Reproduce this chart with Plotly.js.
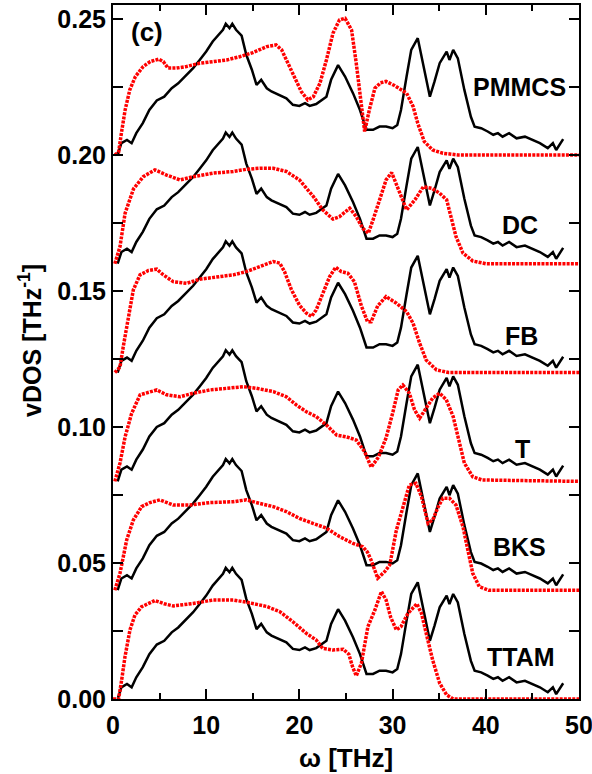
<!DOCTYPE html>
<html>
<head>
<meta charset="utf-8">
<script src="https://cdn.plot.ly/plotly-3.0.1.min.js"></script>
<style>html,body{margin:0;padding:0;background:#fff;}#chart{width:592px;height:774px;}</style>
</head>
<body>
<div id="chart"></div>
<script>
// Reference (black) vDOS curve, relative to each panel's baseline
var blackX = [0.5, 0.9, 1.5, 2.0, 2.5, 3.2, 3.9, 4.7, 5.5, 6.3, 7.0, 7.9, 8.6, 9.3, 10.0, 10.7, 11.3, 11.8, 12.1, 12.5, 12.8, 13.2, 13.8, 14.3, 14.9, 15.4, 15.9, 16.5, 17.0, 17.9, 18.6, 19.3, 20.0, 20.6, 21.1, 21.8, 22.4, 22.9, 23.4, 24.15, 24.9, 25.75, 26.5, 27.2, 27.9, 28.6, 29.3, 30.0, 30.5, 30.9, 31.5, 32.0, 32.7, 33.3, 34.0, 34.5, 35.05, 35.8, 36.1, 36.5, 37.0, 37.7, 38.4, 38.8, 39.5, 40.2, 40.8, 41.3, 41.8, 42.5, 43.3, 44.2, 45.0, 45.8, 46.65, 47.2, 47.55, 48.3];
var blackY = [0.0, 0.0043, 0.0055, 0.0043, 0.008, 0.0117, 0.0165, 0.020, 0.0214, 0.0245, 0.0263, 0.0294, 0.0319, 0.0349, 0.038, 0.0417, 0.044, 0.046, 0.0482, 0.0466, 0.0482, 0.046, 0.0438, 0.0368, 0.0313, 0.0257, 0.0276, 0.0245, 0.0233, 0.022, 0.0208, 0.0184, 0.018, 0.019, 0.018, 0.0187, 0.0202, 0.0214, 0.0276, 0.033, 0.0288, 0.0227, 0.0165, 0.0092, 0.0092, 0.0104, 0.0104, 0.0098, 0.011, 0.0165, 0.0288, 0.0386, 0.0429, 0.0325, 0.0214, 0.027, 0.0337, 0.038, 0.0349, 0.0386, 0.0355, 0.0239, 0.014, 0.0104, 0.0098, 0.0086, 0.0074, 0.008, 0.0067, 0.008, 0.0061, 0.0067, 0.0055, 0.0043, 0.0025, 0.0043, 0.0018, 0.0058];

// Model (red) curves, relative to each panel's baseline
var pmmcsX = [0.2, 0.6, 0.9, 1.3, 1.8, 2.4, 3.25, 4.0, 4.9, 5.4, 5.9, 6.8, 7.9, 9.3, 10.75, 12.2, 13.6, 15.0, 16.5, 17.5, 18.1, 18.8, 19.5, 20.2, 20.9, 21.5, 22.2, 22.9, 23.6, 24.3, 24.9, 25.6, 26.1, 26.65, 27.0, 27.5, 28.1, 28.7, 29.3, 30.2, 31.0, 31.5, 32.2, 32.7, 33.4, 34.3, 35.4, 37.0, 50.0];
var pmmcsY = [0, 0.001, 0.008, 0.0165, 0.0239, 0.0288, 0.0325, 0.0343, 0.0352, 0.0343, 0.0319, 0.0319, 0.0325, 0.0337, 0.0343, 0.0349, 0.0361, 0.0376, 0.0398, 0.0404, 0.0386, 0.0337, 0.0288, 0.0233, 0.0202, 0.0214, 0.0263, 0.0349, 0.0447, 0.0496, 0.0502, 0.0459, 0.0337, 0.0178, 0.0086, 0.0165, 0.0245, 0.0265, 0.027, 0.0255, 0.024, 0.0227, 0.0178, 0.0116, 0.0049, 0.0018, 0.0006, 0, 0];

var dcX = [0.2, 0.75, 1.3, 2.2, 3.25, 4.5, 5.75, 7.2, 8.6, 10.75, 12.9, 14.3, 15.75, 17.2, 18.6, 20.0, 21.5, 22.5, 23.6, 24.3, 25.4, 26.1, 26.8, 27.4, 27.9, 28.6, 29.3, 29.9, 30.8, 31.5, 32.4, 33.3, 34.2, 35.05, 35.8, 36.3, 36.8, 37.55, 38.6, 40.0, 50.0];
var dcY = [0, 0.0063, 0.0186, 0.0275, 0.032, 0.0345, 0.0326, 0.0308, 0.032, 0.0333, 0.0339, 0.0347, 0.0351, 0.0351, 0.0339, 0.0308, 0.0247, 0.0198, 0.0164, 0.0173, 0.0204, 0.0173, 0.013, 0.0112, 0.0161, 0.0235, 0.0308, 0.0335, 0.0253, 0.0198, 0.0235, 0.0283, 0.0277, 0.0259, 0.0235, 0.0173, 0.01, 0.0039, 0.001, 0, 0];

var fbX = [0.2, 0.75, 1.1, 1.64, 2.18, 2.9, 3.8, 4.7, 5.4, 6.46, 7.9, 9.3, 11.1, 12.9, 14.3, 15.75, 17.2, 17.9, 18.4, 19.15, 20.0, 20.75, 21.3, 21.8, 22.5, 23.25, 23.9, 24.5, 25.2, 25.9, 26.65, 27.3, 27.7, 28.4, 29.3, 30.4, 31.5, 32.2, 32.9, 33.6, 34.7, 36.0, 50.0];
var fbY = [0, 0.002, 0.0095, 0.0193, 0.0304, 0.0359, 0.0375, 0.038, 0.0359, 0.0334, 0.0328, 0.0343, 0.035, 0.0359, 0.0371, 0.0389, 0.0408, 0.0402, 0.0371, 0.0304, 0.0248, 0.0218, 0.0206, 0.023, 0.0292, 0.0353, 0.0387, 0.0371, 0.0365, 0.0334, 0.0245, 0.0187, 0.0187, 0.0245, 0.0279, 0.0255, 0.0224, 0.0181, 0.0108, 0.0046, 0.001, 0, 0];

var tX = [0.2, 0.75, 1.3, 2.0, 2.9, 3.96, 4.7, 5.75, 7.2, 8.6, 10.4, 12.2, 14.0, 15.4, 17.2, 18.6, 19.7, 20.75, 21.8, 22.9, 24.0, 25.0, 26.1, 27.0, 27.7, 28.5, 29.3, 30.0, 30.6, 31.1, 31.8, 32.35, 32.9, 33.6, 34.3, 35.05, 35.76, 36.5, 37.0, 37.7, 38.6, 39.6, 50.0];
var tY = [0, 0.0067, 0.0164, 0.025, 0.0318, 0.033, 0.0336, 0.0318, 0.0311, 0.0324, 0.0336, 0.0342, 0.0348, 0.0342, 0.033, 0.0311, 0.028, 0.0256, 0.0238, 0.0207, 0.017, 0.0164, 0.0152, 0.0109, 0.0052, 0.009, 0.016, 0.025, 0.0336, 0.0354, 0.0324, 0.0263, 0.0232, 0.0269, 0.0306, 0.0324, 0.03, 0.0238, 0.0164, 0.0067, 0.0017, 0.0005, 0];

var bksX = [0.2, 0.75, 1.47, 2.18, 3.07, 3.96, 5.04, 6.46, 8.25, 10.4, 12.9, 14.3, 15.75, 17.2, 18.6, 20.0, 21.5, 22.9, 24.3, 25.75, 26.8, 27.3, 27.7, 28.4, 29.15, 29.7, 30.4, 31.1, 31.8, 32.5, 33.1, 33.8, 34.3, 34.9, 35.4, 36.1, 36.8, 37.55, 38.1, 38.6, 39.3, 40.3, 50.0];
var bksY = [0, 0.0062, 0.0185, 0.0258, 0.0307, 0.0322, 0.0332, 0.0313, 0.0313, 0.0322, 0.0325, 0.0332, 0.0319, 0.0307, 0.0289, 0.0264, 0.0245, 0.0228, 0.0197, 0.0172, 0.016, 0.014, 0.011, 0.0044, 0.0068, 0.0093, 0.022, 0.0307, 0.0387, 0.0393, 0.0344, 0.0246, 0.0258, 0.0307, 0.0338, 0.0338, 0.0313, 0.0233, 0.0148, 0.0062, 0.0013, 0, 0];

var ttamX = [0.0, 0.6, 0.93, 1.29, 1.82, 2.36, 3.07, 3.96, 4.5, 5.5, 6.46, 8.6, 10.75, 12.9, 14.3, 16.5, 17.9, 19.3, 20.75, 21.8, 22.5, 23.6, 24.7, 25.3, 25.7, 26.1, 26.65, 27.35, 28.1, 28.8, 29.3, 29.8, 30.4, 30.9, 31.65, 32.6, 33.1, 33.6, 34.3, 35.05, 35.8, 36.5, 50.0];
var ttamY = [0, 0.0, 0.007, 0.0156, 0.0254, 0.0309, 0.0339, 0.0355, 0.0362, 0.035, 0.0342, 0.0351, 0.0364, 0.0364, 0.0356, 0.034, 0.0321, 0.0284, 0.0241, 0.0217, 0.0186, 0.018, 0.0183, 0.0165, 0.0119, 0.0085, 0.0131, 0.0266, 0.0327, 0.0395, 0.0364, 0.03, 0.0254, 0.0266, 0.0315, 0.035, 0.0315, 0.0242, 0.0143, 0.0058, 0.0015, 0, 0];

var models = ["PMMCS", "DC", "FB", "T", "BKS", "TTAM"];
var offsets = [0.20, 0.16, 0.12, 0.08, 0.04, 0.00];
var redX = [pmmcsX, dcX, fbX, tX, bksX, ttamX];
var redY = [pmmcsY, dcY, fbY, tY, bksY, ttamY];
var labelX = [43.6, 43.7, 43.8, 43.9, 43.6, 43.8];
var labelY = [0.225, 0.1743, 0.1335, 0.0919, 0.0559, 0.0154];

var xTickVals = [0, 10, 20, 30, 40, 50];
var yTickVals = [0.00, 0.05, 0.10, 0.15, 0.20, 0.25];

var FONT = "Arial, 'Liberation Sans', sans-serif";
var traces = [];
var annotations = [];
for (var i = 0; i < models.length; i++) {
  var off = offsets[i];
  traces.push({
    x: blackX, y: blackY.map(function (v) { return v + off; }),
    mode: "lines", line: {color: "#000", width: 2.5}, hoverinfo: "skip", showlegend: false
  });
  traces.push({
    x: redX[i], y: redY[i].map(function (v) { return v + off; }),
    mode: "lines", line: {color: "#ff0000", width: 3.5, dash: "3px,1.2px"}, hoverinfo: "skip", showlegend: false
  });
  annotations.push({
    x: labelX[i], y: labelY[i], xref: "x", yref: "y", text: "<b>" + models[i] + "</b>",
    showarrow: false, xanchor: "center", yanchor: "middle",
    font: {family: FONT, size: 25, color: "#000"}
  });
}
annotations.push({
  x: 3.6, y: 0.2452, xref: "x", yref: "y", text: "<b>(c)</b>", showarrow: false,
  xanchor: "center", yanchor: "middle", font: {family: FONT, size: 26, color: "#000"}
});
annotations.push({
  x: -0.178, y: 0.516, xref: "paper", yref: "paper", text: "<b>vDOS [THz<sup>-1</sup>]</b>",
  showarrow: false, textangle: -90, xanchor: "center", yanchor: "middle",
  font: {family: FONT, size: 25, color: "#000"}
});
annotations.push({
  x: 0.5, y: -0.085, xref: "paper", yref: "paper", text: "<b>ω [THz]</b>",
  showarrow: false, xanchor: "center", yanchor: "middle",
  font: {family: FONT, size: 26, color: "#000"}
});

var layout = {
  width: 592, height: 774,
  margin: {l: 113, r: 13, t: 5, b: 75, pad: 0},
  paper_bgcolor: "#fff", plot_bgcolor: "#fff",
  font: {family: FONT, color: "#000"},
  xaxis: {
    range: [0, 50], tickvals: xTickVals, ticktext: xTickVals.map(String),
    ticks: "inside", ticklen: 10, tickwidth: 2, tickcolor: "#000",
    minor: {dtick: 5, ticks: "inside", ticklen: 6, tickwidth: 2, tickcolor: "#000"},
    showline: true, linewidth: 2, linecolor: "#000", mirror: "allticks",
    showgrid: false, zeroline: false, ticklabeloverflow: "allow", ticklabelstandoff: 3,
    tickfont: {family: FONT, size: 25, color: "#000", weight: "bold"}
  },
  yaxis: {
    range: [0, 0.2551], tickvals: yTickVals, ticktext: yTickVals.map(function (v) { return v.toFixed(2); }),
    ticks: "inside", ticklen: 10, tickwidth: 2, tickcolor: "#000",
    minor: {dtick: 0.025, ticks: "inside", ticklen: 10, tickwidth: 2, tickcolor: "#000"},
    showline: true, linewidth: 2, linecolor: "#000", mirror: "allticks",
    showgrid: false, zeroline: false, ticklabeloverflow: "allow",
    tickfont: {family: FONT, size: 25, color: "#000", weight: "bold"}
  },
  annotations: annotations
};

Plotly.newPlot("chart", traces, layout, {staticPlot: true, displayModeBar: false});
</script>
</body>
</html>
